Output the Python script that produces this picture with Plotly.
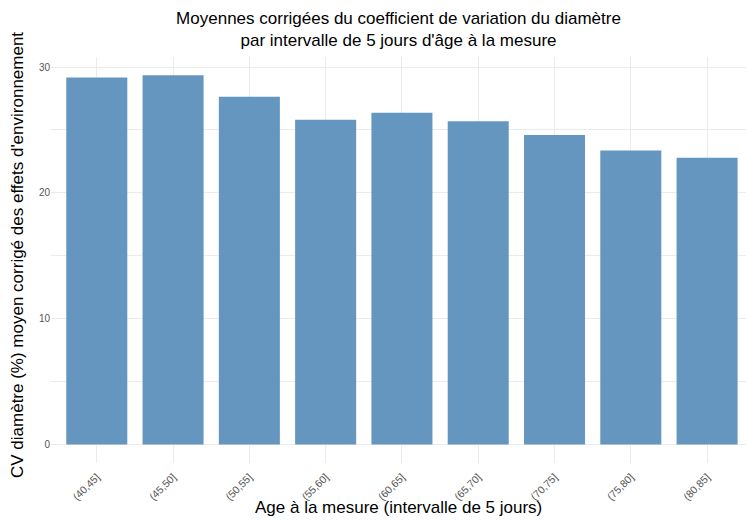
import plotly.graph_objects as go

categories = ["(40,45]", "(45,50]", "(50,55]", "(55,60]", "(60,65]",
              "(65,70]", "(70,75]", "(75,80]", "(80,85]"]
cv_values = [29.18, 29.34, 27.64, 25.82, 26.37, 25.69, 24.6, 23.36, 22.8]
y_ticks = [0, 10, 20, 30]

FONT = "Liberation Sans, Arial, Helvetica, sans-serif"
GRID = "#EBEBEB"

fig = go.Figure(go.Bar(
    x=categories, y=cv_values,
    marker=dict(color="#6596BF", line=dict(width=0)),
))

fig.update_layout(
    width=746, height=520,
    margin=dict(l=51, r=0, t=57, b=57),
    paper_bgcolor="white", plot_bgcolor="white",
    bargap=0.2,
    showlegend=False,
    font=dict(family=FONT),
    title=dict(
        text="Moyennes corrigées du coefficient de variation du diamètre<br>par intervalle de 5 jours d'âge à la mesure",
        x=0.5, xref="paper", xanchor="center",
        y=1 - 24 / 520, yref="container", yanchor="middle",
        font=dict(size=17, color="black", family=FONT),
    ),
    xaxis=dict(
        type="category", range=[-0.6, 8.51],
        showgrid=True, gridcolor=GRID, gridwidth=1,
        zeroline=False, showline=False, ticks="",
        tickangle=-45, tickfont=dict(size=10.5, color="#555555"),
        ticklabelstandoff=5,
    ),
    yaxis=dict(
        range=[-1.47, 30.8], tickvals=y_ticks,
        showgrid=True, gridcolor=GRID, gridwidth=1,
        minor=dict(dtick=5, tick0=0, showgrid=True, gridcolor=GRID, gridwidth=0.6),
        zeroline=False, showline=False, ticks="",
        tickfont=dict(size=10, color="#555555"),
    ),
    annotations=[
        dict(text="Age à la mesure (intervalle de 5 jours)", xref="paper", yref="paper",
             x=0.5, y=-45 / 406, xanchor="center", yanchor="middle", showarrow=False,
             font=dict(size=17, color="black", family=FONT)),
        dict(text="CV diamètre (%) moyen corrigé des effets d'environnement", xref="paper", yref="paper",
             x=-33 / 695, y=(463 - 255) / 406, xanchor="center", yanchor="middle", showarrow=False,
             textangle=-90, font=dict(size=17, color="black", family=FONT)),
    ],
)

fig.write_html("out.html", config={"displayModeBar": False},
               post_script="document.body.style.margin='0';document.body.style.overflow='hidden';")
